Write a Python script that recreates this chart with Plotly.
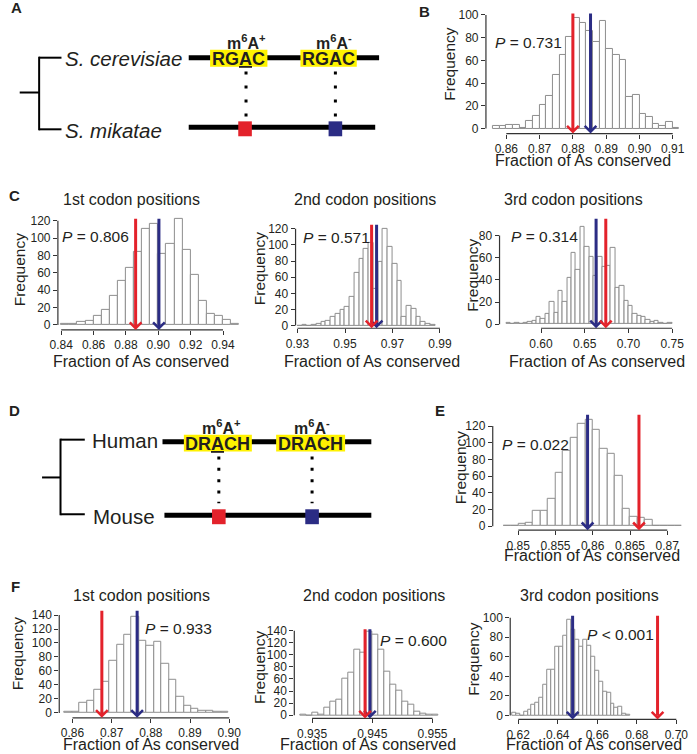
import plotly.graph_objects as go

W, H = 697, 754
FONT = "Liberation Sans, Arial, Helvetica, sans-serif"
TXT = "#231F20"
RED = "#E3222B"
BLUE = "#2B2C84"
YELLOW = "#FFF200"
EDGE = "#8E8E8E"

# ---------------- data ----------------
# B: yeast, all sites
b_bin_start, b_bin_width = 0.856, 0.002
b_counts = [2, 2, 3, 3, 1, 7, 11, 21, 29, 47, 65, 81, 97, 93, 86, 76, 95, 70, 65, 60,
            28, 30, 13, 10, 4, 2, 6, 1]
b_pos, b_neg = 0.8800, 0.8853
b_p = "<i>P</i> = 0.731"
b_xticks = [0.86, 0.87, 0.88, 0.89, 0.90, 0.91]
b_xlabels = ["0.86", "0.87", "0.88", "0.89", "0.90", "0.91"]
b_yticks = [0, 20, 40, 60, 80, 100]

# C1: yeast, 1st codon positions
c1_bin_start, c1_bin_width = 0.840, 0.005
c1_counts = [1, 1, 4, 5, 11, 17, 33, 51, 66, 84, 111, 116, 82, 93, 122, 86, 58, 28, 13, 10, 6, 1]
c1_pos, c1_neg = 0.8860, 0.9004
c1_p = "<i>P</i> = 0.806"
c1_xticks = [0.84, 0.86, 0.88, 0.90, 0.92, 0.94]
c1_xlabels = ["0.84", "0.86", "0.88", "0.90", "0.92", "0.94"]
c1_yticks = [0, 20, 40, 60, 80, 100, 120]

# C2: yeast, 2nd codon positions
c2_bin_start, c2_bin_width = 0.930, 0.002
c2_counts = [0, 1, 0, 1, 2, 4, 6, 11, 15, 19, 23, 35, 65, 83, 95, 103, 46, 79, 120, 97,
             77, 55, 11, 25, 21, 11, 4, 2, 1]
c2_pos, c2_neg = 0.9612, 0.9633
c2_p = "<i>P</i> = 0.571"
c2_xticks = [0.93, 0.95, 0.97, 0.99]
c2_xlabels = ["0.93", "0.95", "0.97", "0.99"]
c2_yticks = [0, 20, 40, 60, 80, 100, 120]

# C3: yeast, 3rd codon positions
c3_bin_start, c3_bin_width = 0.560, 0.005
c3_counts = [1, 0, 1, 0, 1, 2, 3, 7, 5, 9, 20, 10, 30, 20, 42, 64, 49, 88, 70, 61,
             44, 61, 52, 53, 69, 33, 35, 21, 17, 9, 8, 7, 4, 2, 3, 1, 0, 1]
c3_pos, c3_neg = 0.6741, 0.6630
c3_p = "<i>P</i> = 0.314"
c3_xticks = [0.60, 0.65, 0.70, 0.75]
c3_xlabels = ["0.60", "0.65", "0.70", "0.75"]
c3_yticks = [0, 20, 40, 60, 80]

# E: human vs mouse, all sites
e_bin_start, e_bin_width = 0.848, 0.001
e_counts = [1, 1, 3, 4, 18, 19, 33, 64, 90, 106, 123, 128, 115, 93, 87, 60, 21, 11, 10, 8,
            1, 1, 0, 1]
e_pos, e_neg = 0.8662, 0.8593
e_p = "<i>P</i> = 0.022"
e_xticks = [0.85, 0.855, 0.86, 0.865, 0.87]
e_xlabels = ["0.85", "0.855", "0.86", "0.865", "0.87"]
e_yticks = [0, 20, 40, 60, 80, 100, 120]

# F1: human vs mouse, 1st codon positions
f1_bin_start, f1_bin_width = 0.8580, 0.0019
f1_counts = [2, 2, 15, 17, 33, 45, 74, 98, 112, 138, 103, 96, 102, 70, 47, 23, 10, 6, 3, 3, 1, 1]
f1_pos, f1_neg = 0.8675, 0.8765
f1_p = "<i>P</i> = 0.933"
f1_xticks = [0.86, 0.87, 0.88, 0.89, 0.90]
f1_xlabels = ["0.86", "0.87", "0.88", "0.89", "0.90"]
f1_yticks = [0, 20, 40, 60, 80, 100, 120, 140]

# F2: human vs mouse, 2nd codon positions
f2_bin_start, f2_bin_width = 0.933, 0.001
f2_counts = [1, 0, 4, 1, 13, 22, 26, 60, 70, 109, 103, 139, 134, 109, 72, 50, 40, 23, 18, 5, 2, 1, 1]
f2_pos, f2_neg = 0.9438, 0.9446
f2_p = "<i>P</i> = 0.600"
f2_xticks = [0.935, 0.945, 0.955]
f2_xlabels = ["0.935", "0.945", "0.955"]
f2_yticks = [0, 20, 40, 60, 80, 100, 120, 140]

# F3: human vs mouse, 3rd codon positions
f3_bin_start, f3_bin_width = 0.6168, 0.002
f3_counts = [3, 2, 0, 4, 6, 11, 13, 18, 31, 47, 47, 70, 70, 82, 98, 88, 77, 70, 77, 71,
             60, 46, 34, 24, 23, 12, 8, 9, 2, 1]
f3_pos, f3_neg = 0.6905, 0.6475
f3_p = "<i>P</i> < 0.001"
f3_xticks = [0.62, 0.64, 0.66, 0.68, 0.70]
f3_xlabels = ["0.62", "0.64", "0.66", "0.68", "0.70"]
f3_yticks = [0, 20, 40, 60, 80, 100]

XTITLE = "Fraction of As conserved"
YTITLE = "Frequency"

panels = [
    dict(start=b_bin_start, width=b_bin_width, counts=b_counts, pos=b_pos, neg=b_neg, p=b_p,
         xticks=b_xticks, xlabels=b_xlabels, yticks=b_yticks, title=None),
    dict(start=c1_bin_start, width=c1_bin_width, counts=c1_counts, pos=c1_pos, neg=c1_neg, p=c1_p,
         xticks=c1_xticks, xlabels=c1_xlabels, yticks=c1_yticks, title="1st codon positions"),
    dict(start=c2_bin_start, width=c2_bin_width, counts=c2_counts, pos=c2_pos, neg=c2_neg, p=c2_p,
         xticks=c2_xticks, xlabels=c2_xlabels, yticks=c2_yticks, title="2nd codon positions"),
    dict(start=c3_bin_start, width=c3_bin_width, counts=c3_counts, pos=c3_pos, neg=c3_neg, p=c3_p,
         xticks=c3_xticks, xlabels=c3_xlabels, yticks=c3_yticks, title="3rd codon positions"),
    dict(start=e_bin_start, width=e_bin_width, counts=e_counts, pos=e_pos, neg=e_neg, p=e_p,
         xticks=e_xticks, xlabels=e_xlabels, yticks=e_yticks, title=None),
    dict(start=f1_bin_start, width=f1_bin_width, counts=f1_counts, pos=f1_pos, neg=f1_neg, p=f1_p,
         xticks=f1_xticks, xlabels=f1_xlabels, yticks=f1_yticks, title="1st codon positions"),
    dict(start=f2_bin_start, width=f2_bin_width, counts=f2_counts, pos=f2_pos, neg=f2_neg, p=f2_p,
         xticks=f2_xticks, xlabels=f2_xlabels, yticks=f2_yticks, title="2nd codon positions"),
    dict(start=f3_bin_start, width=f3_bin_width, counts=f3_counts, pos=f3_pos, neg=f3_neg, p=f3_p,
         xticks=f3_xticks, xlabels=f3_xlabels, yticks=f3_yticks, title="3rd codon positions"),
]

# ---------------- geometry (pixels) ----------------
# box = (left axis x, right, top, bottom axis y); xcal/ycal = tick calibration (value, px, value, px)
geoms = [
    dict(box=(490, 695, 8, 134.3), xcal=(0.86, 511, 0.91, 682.3), ycal=(0, 129.3, 100, 15),
         atop=12.7, ppos=(498, 43), ytl=(453, 65), xtl=(590, 161), tpos=None),
    dict(box=(49.3, 238, 212, 331.7), xcal=(0.84, 52.7, 0.94, 219.3), ycal=(0, 326.7, 120, 222),
         atop=219, ppos=(53, 238), ytl=(10, 271), xtl=(135, 363), tpos=(125, 201)),
    dict(box=(294, 446, 212, 330), xcal=(0.93, 296, 0.99, 442.7), ycal=(0, 327.3, 120, 230),
         atop=225, ppos=(300.7, 239), ytl=(257, 270), xtl=(373, 363), tpos=(365, 201)),
    dict(box=(504, 690, 212, 330), xcal=(0.60, 546.7, 0.75, 681.7), ycal=(0, 326, 80, 236.7),
         atop=219, ppos=(515, 238), ytl=(476, 277), xtl=(604, 363), tpos=(580, 201)),
    dict(box=(497, 695, 410, 533), xcal=(0.85, 523.3, 0.87, 676.7), ycal=(0, 529, 120, 428.3),
         atop=416, ppos=(505, 447), ytl=(464, 470), xtl=(599, 558), tpos=None),
    dict(box=(50.7, 228, 606, 721.7), xcal=(0.86, 64.3, 0.90, 225.7), ycal=(0, 716.7, 140, 618.3),
         atop=613, ppos=(138, 632), ytl=(8, 657), xtl=(145, 748), tpos=(135, 599)),
    dict(box=(292.7, 445, 625, 722.3), xcal=(0.935, 311, 0.955, 435), ycal=(0, 719, 140, 634),
         atop=631.7, ppos=(380, 644), ytl=(257, 671), xtl=(369, 748), tpos=(375, 599)),
    dict(box=(515, 690, 612, 723.3), xcal=(0.62, 523.3, 0.70, 686), ycal=(0, 719.3, 100, 621),
         atop=618, ppos=(593, 638), ytl=(477, 663), xtl=(601, 748), tpos=(597, 599)),
]


def lin(cal, p):
    v1, p1, v2, p2 = cal
    return v1 + (p - p1) * (v2 - v1) / (p2 - p1)


def PX(x):
    return x / W


def PY(y):
    return 1 - y / H


fig = go.Figure()
layout = {}
shapes = []
annotations = []


def text(x, y, s, size, xanchor="center", yanchor="middle", angle=0, color=TXT):
    annotations.append(dict(x=PX(x), y=PY(y), xref="paper", yref="paper", text=s, showarrow=False,
                            xanchor=xanchor, yanchor=yanchor, textangle=angle, borderpad=0,
                            font=dict(family=FONT, size=size, color=color)))


axis_common = dict(showgrid=False, zeroline=False, showline=False, ticks="outside", ticklen=4,
                   tickwidth=1, tickcolor="#333", fixedrange=True,
                   tickfont=dict(family=FONT, size=12, color=TXT))

for i, (d, g) in enumerate(zip(panels, geoms), start=1):
    sfx = "" if i == 1 else str(i)
    xa, ya = "x" + sfx, "y" + sfx
    centers = [d["start"] + (k + 0.5) * d["width"] for k in range(len(d["counts"]))]
    fig.add_trace(go.Bar(x=centers, y=d["counts"], width=d["width"], xaxis=xa, yaxis=ya,
                         marker=dict(color="white", line=dict(color=EDGE, width=1)),
                         showlegend=False, hoverinfo="skip"))
    L, R, T, B = g["box"]
    layout["xaxis" + sfx] = dict(domain=[PX(L), PX(R)], range=[lin(g["xcal"], L), lin(g["xcal"], R)],
                                 anchor=ya, tickvals=d["xticks"], ticktext=d["xlabels"], **axis_common)
    layout["yaxis" + sfx] = dict(domain=[PY(B), PY(T)], range=[lin(g["ycal"], B), lin(g["ycal"], T)],
                                 anchor=xa, tickvals=d["yticks"], **axis_common)
    # detached axis lines
    shapes.append(dict(type="line", xref=xa + " domain", yref=ya, x0=0, x1=0,
                       y0=d["yticks"][0], y1=d["yticks"][-1], line=dict(color="#333", width=1.2)))
    shapes.append(dict(type="line", xref=xa, yref=ya + " domain", x0=d["xticks"][0], x1=d["xticks"][-1],
                       y0=0, y1=0, line=dict(color="#333", width=1.2)))
    # arrows: blue (m6A-) first, red (m6A+) on top
    for val, col in ((d["neg"], BLUE), (d["pos"], RED)):
        annotations.append(dict(x=val, y=0, xref=xa, yref=ya + " domain", text="", showarrow=True,
                                arrowhead=4, arrowsize=0.75, arrowwidth=3, arrowcolor=col,
                                ax=0, ay=-(B - g["atop"])))
    text(g["ppos"][0], g["ppos"][1], d["p"], 15.5, xanchor="left")
    text(g["ytl"][0], g["ytl"][1], YTITLE, 15.5, angle=-90)
    text(g["xtl"][0], g["xtl"][1], XTITLE, 16)
    if d["title"]:
        text(g["tpos"][0], g["tpos"][1], d["title"], 16)

# ---------------- panel letters ----------------
for letter, (lx, ly) in zip("ABCDEF", [(7, 8), (427, 12), (5, 197), (5, 413), (443, 413), (6, 590)]):
    text(lx, ly, "<b>%s</b>" % letter, 15)


# ---------------- schematic diagrams A and D ----------------
def seg(x0, y0, x1, y1, w, color="black", dash=None):
    ln = dict(color=color, width=w)
    if dash:
        ln["dash"] = dash
    shapes.append(dict(type="line", xref="paper", yref="paper", x0=PX(x0), y0=PY(y0), x1=PX(x1), y1=PY(y1),
                       line=ln))


def box(x0, y0, x1, y1, color):
    shapes.append(dict(type="rect", xref="paper", yref="paper", x0=PX(x0), y0=PY(y0), x1=PX(x1), y1=PY(y1),
                       fillcolor=color, line=dict(width=0)))


# A: yeast
seg(10, 93, 30, 93, 2)
seg(30, 57, 30, 131, 2)
seg(30, 58, 53, 58, 2)
seg(30, 130, 53, 130, 2)
text(56, 59, "<i>S. cerevisiae</i>", 20.5, xanchor="left")
text(56, 131, "<i>S. mikatae</i>", 20.5, xanchor="left")
seg(184, 58, 380, 58, 5)
seg(184, 128, 376, 128, 5)
box(206, 50, 265, 67, YELLOW)
box(299, 50, 357, 67, YELLOW)
text(235.5, 59, "<b>RG<u>A</u>C</b>", 18)
text(328, 59, "<b>RGAC</b>", 18)
text(243, 42, "<b>m<sup>6</sup>A<sup>+</sup></b>", 16)
text(334, 42, "<b>m<sup>6</sup>A<sup>-</sup></b>", 16)
seg(243, 72, 243, 118, 3, dash="3px,11px")
seg(335, 72, 335, 118, 3, dash="3px,11px")
box(235, 122, 249, 137, RED)
box(328, 122, 342, 137, BLUE)

# D: human / mouse
seg(33, 480, 52, 480, 2)
seg(52, 441, 52, 518, 2)
seg(52, 442, 77, 442, 2)
seg(52, 517, 77, 517, 2)
text(83, 443, "Human", 20.5, xanchor="left")
text(84, 519, "Mouse", 20.5, xanchor="left")
seg(157, 444, 372, 444, 5)
seg(159, 518, 372, 518, 5)
box(179, 437, 249, 454, YELLOW)
box(274, 437, 345, 454, YELLOW)
text(214, 446, "<b>DR<u>A</u>CH</b>", 18)
text(309.5, 446, "<b>DRACH</b>", 18)
text(218, 429, "<b>m<sup>6</sup>A<sup>+</sup></b>", 16)
text(311, 429, "<b>m<sup>6</sup>A<sup>-</sup></b>", 16)
seg(215, 459, 215, 506, 3, dash="3px,8.3px")
seg(311, 459, 311, 506, 3, dash="3px,8.3px")
box(208, 512, 222, 527, RED)
box(304, 512, 318, 527, BLUE)

fig.update_layout(width=W, height=H, margin=dict(l=0, r=0, t=0, b=0), paper_bgcolor="white",
                  plot_bgcolor="white", bargap=0, showlegend=False, shapes=shapes,
                  annotations=annotations, font=dict(family=FONT, color=TXT), **layout)
fig.write_html("out.html", config={"displayModeBar": False},
               post_script="document.body.style.margin='0';document.body.style.padding='0';")
